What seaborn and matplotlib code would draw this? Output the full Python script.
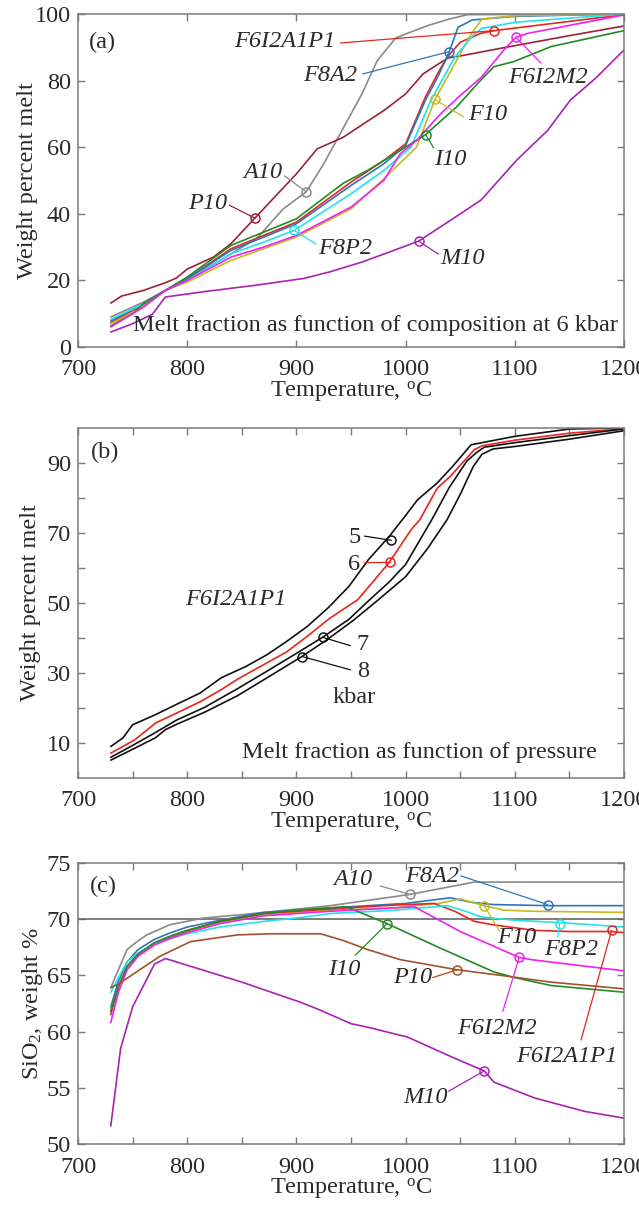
import numpy as np
import pandas as pd
import matplotlib
matplotlib.use('Agg')
import matplotlib.pyplot as plt
import matplotlib.ticker as ticker
import seaborn as sns

# ---------------- panel (a): melt fraction vs composition, 6 kbar
a_names = ['A10', 'P10', 'F6I2A1P1', 'F8A2', 'F10', 'F8P2', 'I10', 'F6I2M2', 'M10']
a_colors = ['#8a8a8a', '#9b2335', '#e8251f', '#2a78b8', '#c2bb22', '#22e2ea', '#228b22', '#f020f0', '#a822b4']

a_T = {
    'A10': [730, 760, 780, 800, 830, 864, 888, 909, 925, 940, 960, 974, 991, 1000, 1020, 1040, 1057, 1200],
    'P10': [730, 740, 760, 780, 790, 800, 824, 840, 862, 880, 900, 919, 943, 960, 980, 1000, 1016, 1030, 1039, 1050, 1087, 1150, 1200],
    'F6I2A1P1': [730, 760, 780, 800, 840, 870, 900, 950, 980, 1000, 1018, 1030, 1038, 1050, 1069, 1081, 1200],
    'F8A2': [730, 760, 780, 800, 840, 870, 900, 950, 980, 1000, 1018, 1030, 1040, 1048, 1061, 1100, 1200],
    'F10': [730, 760, 780, 800, 840, 870, 900, 950, 980, 1010, 1027, 1045, 1060, 1070, 1100, 1200],
    'F8P2': [730, 760, 780, 800, 840, 870, 898, 950, 980, 1005, 1023, 1045, 1062, 1070, 1100, 1200],
    'I10': [730, 750, 760, 780, 800, 840, 870, 900, 943, 965, 995, 1018, 1047, 1069, 1081, 1099, 1118, 1133, 1200],
    'F6I2M2': [730, 760, 780, 800, 840, 870, 900, 950, 980, 995, 1010, 1032, 1050, 1070, 1090, 1101, 1112, 1200],
    'M10': [730, 750, 768, 780, 815, 864, 907, 931, 960, 985, 1012, 1040, 1069, 1102, 1130, 1151, 1175, 1200],
}
a_W = {
    'A10': [9.0, 13.5, 17, 20.5, 26, 32.7, 41.5, 46.6, 55, 64, 76, 86, 92.8, 94, 96.5, 98.5, 99.8, 100],
    'P10': [13.2, 15.3, 17, 19.3, 20.7, 23.4, 27, 31, 38.7, 45, 52, 59.5, 63, 66.7, 71, 76, 82, 85, 86.8, 87.4, 89.7, 93.5, 96.4],
    'F6I2A1P1': [7.3, 12.8, 17, 20.5, 29.5, 33.5, 37.5, 49.5, 56, 61, 75, 82.5, 87, 91.5, 94.2, 95, 99.8],
    'F8A2': [7.8, 13, 17, 20.5, 29, 33, 37, 48.5, 55, 60.5, 74, 81.5, 88.7, 96, 98.2, 99.3, 100],
    'F10': [7.0, 12, 17, 19.5, 26, 29.5, 33, 41.5, 50.5, 60, 74.4, 85, 94, 98.5, 99.5, 100],
    'F8P2': [8.3, 13, 17, 20, 28, 31.5, 35, 46, 53, 60, 74, 87, 93.7, 95.7, 97.5, 100],
    'I10': [6.3, 10, 13, 17, 21, 30.5, 34.5, 38.5, 49.2, 53, 59, 63.7, 72.2, 80.2, 84.2, 85.7, 88.2, 90.2, 95],
    'F6I2M2': [6.0, 12, 17, 20, 27, 30, 33.5, 42, 50, 58, 62, 70, 75.5, 81.2, 89.2, 93, 94.2, 99.7],
    'M10': [4.5, 7, 9.8, 15, 16.6, 18.6, 20.6, 22.6, 25.5, 28.5, 31.8, 37.8, 44.1, 56.2, 65, 74.2, 81, 89.2],
}
# marker point, leader start, text anchor, alignment
a_mark = {
    'A10': (909, 46.6), 'P10': (862, 38.7), 'F6I2A1P1': (1081, 95), 'F8A2': (1040, 88.7),
    'F10': (1026.5, 74.4), 'F8P2': (898, 35), 'I10': (1018.5, 63.7), 'F6I2M2': (1101, 93), 'M10': (1012, 31.8),
}
a_lead = {
    'A10': (889, 51.4), 'P10': (838.5, 42.6), 'F6I2A1P1': (940.4, 91.3), 'F8A2': (960.6, 82),
    'F10': (1053, 69.1), 'F8P2': (918, 30.9), 'I10': (1025.7, 59.8), 'F6I2M2': (1123.9, 85.3), 'M10': (1030, 27.9),
}
a_text = {
    'A10': (887, 52.3, 'right'), 'P10': (836.7, 43.2, 'right'), 'F6I2A1P1': (935.8, 91.6, 'right'),
    'F8A2': (956, 81.4, 'right'), 'F10': (1057, 69.7, 'left'), 'F8P2': (920, 29.7, 'left'),
    'I10': (1025.7, 56.2, 'left'), 'F6I2M2': (1093.6, 80.8, 'left'), 'M10': (1032, 26.7, 'left'),
}

# ---------------- panel (b): F6I2A1P1 at 5-8 kbar
b_pressures = ['5', '6', '7', '8']
b_colors = ['#111111', '#e8251f', '#111111', '#111111']
b_T = {
    '5': [730, 741, 750, 771, 790, 812, 831, 854, 873, 891, 910, 929, 948, 966, 985, 1000, 1011, 1029, 1043, 1060, 1100, 1150, 1200],
    '6': [730, 752, 771, 790, 812, 831, 846, 873, 891, 910, 930, 956, 970, 985, 1005, 1013, 1029, 1041, 1063, 1070, 1100, 1150, 1200],
    '7': [730, 750, 771, 790, 816, 846, 873, 900, 924, 948, 967, 985, 1000, 1024, 1040, 1056, 1065, 1072, 1100, 1150, 1200],
    '8': [730, 750, 771, 780, 790, 816, 846, 873, 905, 928, 952, 975, 1000, 1020, 1038, 1050, 1062, 1070, 1080, 1100, 1150, 1200],
}
b_W = {
    '5': [9.0, 11.4, 15.2, 18.1, 21, 24.3, 28.6, 31.9, 35.2, 39, 43.3, 48.6, 54.7, 62.4, 69, 75, 79.5, 84.3, 89, 95.2, 97.6, 99.7, 100],
    '6': [7.1, 10.9, 15.7, 18.5, 21.8, 25.2, 28.2, 32.9, 36, 40.5, 45.5, 50.9, 56, 61.6, 70.9, 73.8, 82.8, 86.2, 93.8, 94.9, 96.5, 98.5, 99.8],
    '7': [5.9, 9.3, 13.0, 16.5, 20.2, 25.5, 30.5, 35.6, 40.2, 45.3, 50.9, 56, 61, 73.8, 83, 90.5, 93, 94.5, 95.8, 97.8, 99.7],
    '8': [5.1, 8.2, 11.5, 13.8, 15.3, 18.8, 23.5, 28.6, 34.7, 39.5, 45.0, 50.9, 57.5, 65.5, 73.8, 81, 89, 92.5, 94, 94.7, 96.8, 99.2],
}
b_mark = {'5': (987, 67.9), '6': (986, 61.6), '7': (924, 40.2), '8': (905.2, 34.7)}
b_lead = {'5': (962.4, 69.1), '6': (962.4, 61.5), '7': (949.5, 37.8), '8': (949.5, 30.9)}
b_text = {'5': (953, 68.6), '6': (953, 60.9), '7': (960.8, 38.1), '8': (960.8, 30.5)}

# ---------------- panel (c): SiO2 of melt
c_names = ['A10', 'F8A2', 'F10', 'F6I2A1P1', 'F8P2', 'I10', 'F6I2M2', 'P10', 'M10']
c_colors = ['#8a8a8a', '#2a78b8', '#c2bb22', '#e8251f', '#22e2ea', '#228b22', '#f020f0', '#a0522d', '#a822b4']
c_T = {
    'A10': [730, 737, 745, 754, 763, 784, 815, 850, 931, 1004, 1063, 1200],
    'F8A2': [730, 737, 745, 755, 770, 785, 800, 830, 870, 931, 1000, 1041, 1060, 1080, 1130, 1200],
    'F10': [730, 737, 745, 755, 770, 785, 800, 830, 870, 931, 990, 1030, 1050, 1072, 1090, 1118, 1200],
    'F6I2A1P1': [730, 737, 745, 755, 770, 785, 800, 830, 870, 931, 980, 1026, 1045, 1063, 1080, 1118, 1150, 1188, 1200],
    'F8P2': [730, 737, 745, 755, 770, 785, 800, 830, 870, 900, 931, 990, 1038, 1055, 1069, 1100, 1141, 1200],
    'I10': [730, 737, 745, 755, 770, 785, 800, 830, 870, 900, 946, 983, 1030, 1081, 1100, 1133, 1200],
    'F6I2M2': [730, 737, 745, 755, 770, 785, 800, 830, 870, 931, 1008, 1050, 1104, 1115, 1200],
    'P10': [730, 738, 775, 803, 846, 876, 922, 943, 965, 995, 1047, 1087, 1133, 1200],
    'M10': [730, 739, 750, 770, 780, 850, 904, 922, 950, 965, 1002, 1041, 1072, 1081, 1118, 1164, 1200],
}
c_W = {
    'A10': [63.9, 65.5, 67.3, 68.0, 68.6, 69.5, 70.1, 70.4, 71.2, 72.2, 73.3, 73.3],
    'F8A2': [62.2, 64.5, 66.2, 67.3, 68.2, 68.8, 69.3, 69.9, 70.6, 71.0, 71.4, 71.9, 71.5, 71.3, 71.2, 71.2],
    'F10': [61.8, 64.0, 65.7, 66.8, 67.8, 68.4, 68.9, 69.7, 70.4, 70.8, 71.0, 71.4, 71.8, 71.2, 70.8, 70.7, 70.6],
    'F6I2A1P1': [61.5, 64.0, 65.8, 66.9, 67.9, 68.5, 69.0, 69.8, 70.5, 70.9, 71.2, 71.4, 70.7, 69.8, 69.5, 69.0, 68.9, 68.9, 68.8],
    'F8P2': [63.5, 64.8, 66.2, 67.0, 67.8, 68.3, 68.7, 69.3, 69.8, 70.1, 70.5, 70.8, 71.2, 70.7, 70.2, 69.9, 69.7, 69.3],
    'I10': [61.8, 64.0, 65.8, 66.9, 67.9, 68.5, 69.0, 69.8, 70.5, 70.8, 71.1, 69.6, 67.5, 65.3, 64.8, 64.1, 63.5],
    'F6I2M2': [60.8, 63.5, 65.5, 66.7, 67.7, 68.3, 68.8, 69.6, 70.3, 70.7, 71.1, 68.9, 66.6, 66.4, 65.4],
    'P10': [63.9, 64.3, 66.7, 68.0, 68.6, 68.7, 68.7, 68.1, 67.3, 66.4, 65.5, 65.0, 64.4, 63.8],
    'M10': [51.6, 58.5, 62.2, 66.0, 66.5, 64.4, 62.6, 61.9, 60.7, 60.4, 59.5, 57.8, 56.5, 55.5, 54.1, 52.9, 52.3],
}
c_mark = {
    'A10': (1003.7, 72.2), 'F8A2': (1130, 71.3), 'F10': (1072, 71.2), 'F8P2': (1141, 69.6),
    'F6I2A1P1': (1188.7, 69.0), 'F6I2M2': (1104, 66.6), 'I10': (983, 69.6), 'P10': (1047.4, 65.5), 'M10': (1072, 56.5),
}
c_lead = {
    'A10': (977, 72.95), 'F8A2': (1050.5, 73.85), 'F10': (1086, 68.95), 'F8P2': (1139.4, 68.4),
    'F6I2A1P1': (1160.6, 59.25), 'F6I2M2': (1089, 61.8), 'I10': (954, 66.8), 'P10': (1024.8, 64.8), 'M10': (1039.4, 54.7),
}
c_text = {
    'A10': (951.5, 73.5), 'F8A2': (1024, 73.8), 'F10': (1102, 68.4), 'F8P2': (1152, 67.3),
    'F6I2A1P1': (1148, 57.8), 'F6I2M2': (1083.5, 60.3), 'I10': (943.6, 65.5), 'P10': (1006.4, 64.8), 'M10': (1018, 54.1),
}

# ---------------- style
sns.set_style('ticks')
plt.rcParams['font.family'] = ['Liberation Serif', 'DejaVu Serif']
plt.rcParams['mathtext.fontset'] = 'custom'
plt.rcParams['mathtext.rm'] = 'Liberation Serif'
plt.rcParams['mathtext.it'] = 'Liberation Serif:italic'
FS = 17.5
INK = '#2a2a2a'
SPINE = '#7a7a7a'
LW = 1.2

fig = plt.figure(figsize=(6.39, 12.12), dpi=100)
L, R = 0.1221, 0.9765
ax_a = fig.add_axes([L, 0.7137, R - L, 0.98845 - 0.7137])
ax_b = fig.add_axes([L, 0.3581, R - L, 0.6469 - 0.3581])
ax_c = fig.add_axes([L, 0.0561, R - L, 0.2880 - 0.0561])


def frame(ax):
    for s in ax.spines.values():
        s.set_color(SPINE)
        s.set_linewidth(1.1)
    ax.tick_params(which='both', direction='in', top=True, right=True, length=5,
                   width=1, color=SPINE, labelsize=FS, labelcolor=INK)
    ax.tick_params(axis='x', which='both', pad=9)
    ax.tick_params(axis='y', which='both', pad=5)
    ax.set_xlim(700, 1200)
    ax.xaxis.set_major_locator(ticker.MultipleLocator(100))
    ax.set_xlabel('Temperature, $^{\\rm o}$C', fontsize=FS, color=INK, labelpad=-1)


def tag(ax, mark, lead, color, ms=6.5):
    ax.plot([lead[0], mark[0]], [lead[1], mark[1]], color=color, lw=0.9)
    ax.plot(mark[0], mark[1], 'o', ms=ms, mfc='none', mec=color, mew=1.1)


# (a)
for name, col in zip(a_names, a_colors):
    sns.lineplot(x=a_T[name], y=a_W[name], color=col, lw=LW, sort=False,
                 estimator=None, ax=ax_a)
for name, col in zip(a_names, a_colors):
    tag(ax_a, a_mark[name], a_lead[name], col)
    tx, ty, ha = a_text[name]
    ax_a.text(tx, ty, name, ha=ha, va='center', fontsize=FS, style='italic', color=INK)
frame(ax_a)
ax_a.set_ylim(0, 100)
ax_a.yaxis.set_major_locator(ticker.MultipleLocator(20))
ax_a.set_ylabel('Weight percent melt', fontsize=FS, color=INK, labelpad=-2)
ax_a.text(710, 91.6, '(a)', ha='left', va='center', fontsize=FS, color=INK)
ax_a.text(1194.5, 6.6, 'Melt fraction as function of composition at 6 kbar',
          ha='right', va='center', fontsize=FS, color=INK)

# (b)
for p, col in zip(b_pressures, b_colors):
    sns.lineplot(x=b_T[p], y=b_W[p], color=col, lw=LW, sort=False,
                 estimator=None, ax=ax_b)
for p, col in zip(b_pressures, b_colors):
    tag(ax_b, b_mark[p], b_lead[p], col)
    ax_b.text(b_text[p][0], b_text[p][1], p, ha='center', va='center', fontsize=FS, color=INK)
frame(ax_b)
ax_b.xaxis.set_minor_locator(ticker.MultipleLocator(50))
ax_b.set_ylim(0, 100)
ax_b.set_yticks(range(10, 100, 10))
ax_b.set_yticklabels([str(v) if v % 20 == 10 else '' for v in range(10, 100, 10)])
ax_b.set_ylabel('Weight percent melt', fontsize=FS, color=INK, labelpad=4)
ax_b.text(953, 22.9, 'kbar', ha='center', va='center', fontsize=FS, color=INK)
ax_b.text(844, 50.9, 'F6I2A1P1', ha='center', va='center', fontsize=FS, style='italic', color=INK)
ax_b.text(712, 93, '(b)', ha='left', va='center', fontsize=FS, color=INK)
ax_b.text(1175, 7.2, 'Melt fraction as function of pressure',
          ha='right', va='center', fontsize=FS, color=INK)

# (c)
ax_c.axhline(70, color='#666666', lw=1.2)
for name, col in zip(c_names, c_colors):
    sns.lineplot(x=c_T[name], y=c_W[name], color=col, lw=LW, sort=False,
                 estimator=None, ax=ax_c)
for name, col in zip(c_names, c_colors):
    tag(ax_c, c_mark[name], c_lead[name], col)
    ax_c.text(c_text[name][0], c_text[name][1], name, ha='center', va='center',
              fontsize=FS, style='italic', color=INK)
frame(ax_c)
ax_c.xaxis.set_minor_locator(ticker.MultipleLocator(50))
ax_c.set_ylim(50, 75)
ax_c.yaxis.set_major_locator(ticker.MultipleLocator(5))
ax_c.set_ylabel('SiO$_2$, weight %', fontsize=FS, color=INK, labelpad=1)
ax_c.text(711, 72.9, '(c)', ha='left', va='center', fontsize=FS, color=INK)

fig.savefig('out.png', dpi=100)
